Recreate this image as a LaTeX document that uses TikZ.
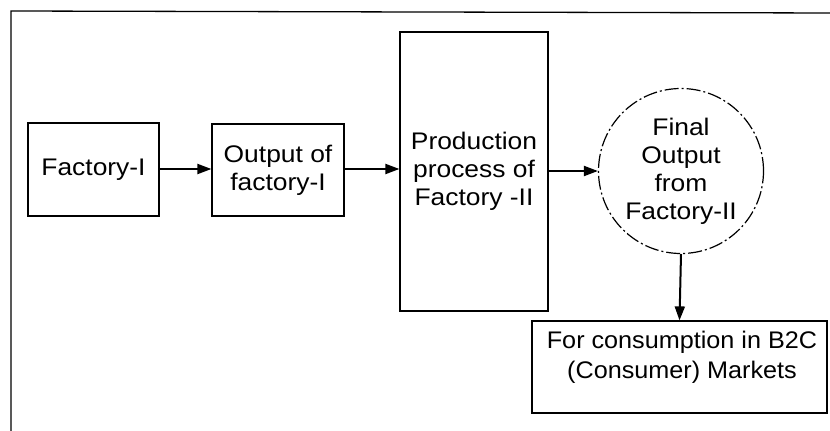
\documentclass[tikz,border=0pt]{standalone}
\usepackage{fontspec}
\usepackage{graphicx}
\setmainfont{Liberation Sans}
\newfontfamily\widesans[FakeStretch=1.1]{Liberation Sans}
\usetikzlibrary{arrows.meta}
\begin{document}
\begin{tikzpicture}[x=1pt,y=-1pt,
  every node/.style={font=\widesans\fontsize{24}{28}\selectfont, inner sep=0pt},
  box/.style={draw, line width=1.2pt, rectangle},
  flow/.style={line width=2pt, -{Triangle[length=14pt,width=10pt]}},
  txt/.style={align=center}]
  \useasboundingbox (0,0) rectangle (830,431);
  % outer frame (only left and top edges fall inside the page)
  \coordinate (frameBL) at (11,436);
  \coordinate (frameTL) at (11,11);
  \coordinate (frameTR) at (835,13);
  \draw[line width=1.3pt] (frameBL) -- (frameTL) -- (frameTR);

  \node[box, minimum width=131pt, minimum height=93pt] (f1) at (93.5,169.5) {Factory-I};
  \node[box, txt, minimum width=132pt, minimum height=92pt] (out1) at (278,170) {Output of\\factory-I};
  \node[box, txt, minimum width=148pt, minimum height=279pt] (prod) at (474,171.5) {Production\\process of\\Factory -II};
  \node[circle, draw, line width=1.2pt, dash pattern=on 14pt off 3pt on 2pt off 3pt,
        minimum size=165pt, txt] (fin) at (681,171) {Final\\Output\\from\\Factory-II};
  \node[box, minimum width=295pt, minimum height=92pt] (mkt) at (679.5,367) {};
  \node[font=\rmfamily\fontsize{24}{30}\selectfont] (mkttxt) at (682,357)
    {\scalebox{1.05}[1]{\begin{tabular}{@{}c@{}}For consumption in B2C\\(Consumer) Markets\end{tabular}}};

  \draw[flow] (f1.east |- 0,169) -- (out1.west |- 0,169);
  \draw[flow] (out1.east |- 0,169) -- (prod.west |- 0,169);
  \draw[flow] (prod.east |- 0,171) -- (fin.west);
  \draw[flow] (fin.south) -- (mkt.north);
\end{tikzpicture}
\end{document}
